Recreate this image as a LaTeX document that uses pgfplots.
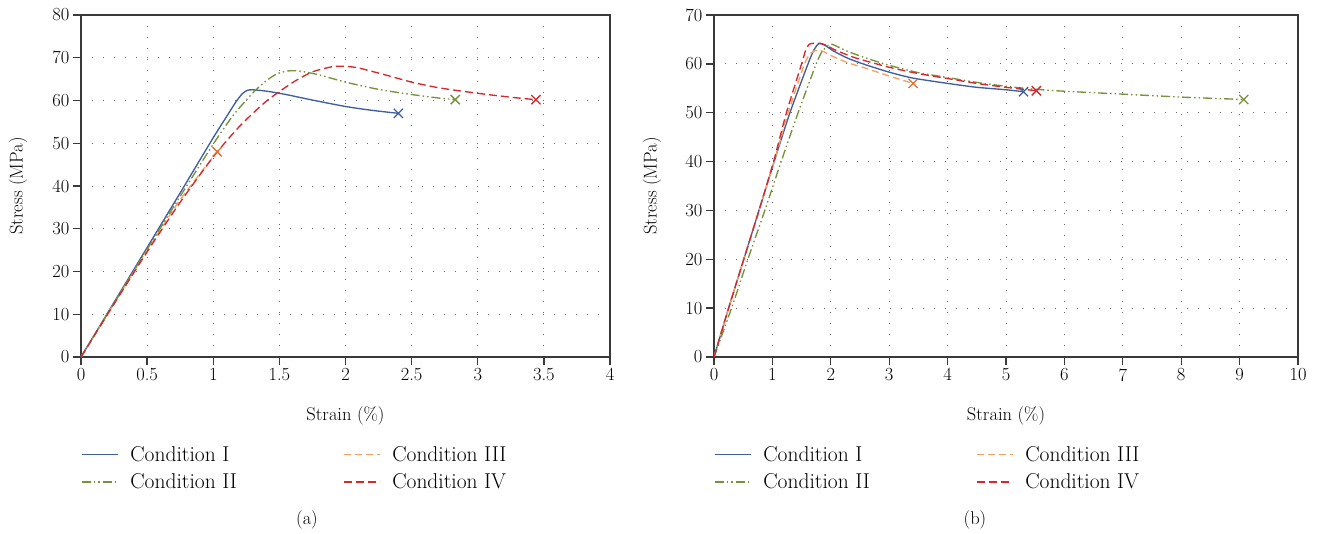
\documentclass[border=0pt]{standalone}
\usepackage{fontspec}
\usepackage{pgfplots}
\pgfplotsset{compat=1.18}
\definecolor{cI}{HTML}{3F5F9F}
\definecolor{cII}{HTML}{76923C}
\definecolor{cIII}{HTML}{F2A066}
\definecolor{cIIIx}{HTML}{E0702E}
\definecolor{cIV}{HTML}{D42A2F}
\definecolor{axc}{HTML}{3A3A3A}
\newcommand{\fs}{\fontsize{18.5}{21}\selectfont}
\newcommand{\fl}{\fontsize{21.5}{24}\selectfont}
\pgfplotsset{
  mystyle/.style={
    scale only axis, height=342pt,
    axis line style={axc, line width=1.3pt},
    every tick/.style={axc, line width=1.3pt},
    tick align=outside, tick pos=left, major tick length=8pt,
    grid=major, grid style={black!60, line width=0.9pt, dash pattern=on 1.1pt off 9.9pt},
    ticklabel style={font=\fs},
    /pgf/number format/assume math mode=true,
    every axis x label/.style={at={(axis description cs:0.5,-0.1725)}, anchor=center, font=\fs},
    legend columns=2,
    legend cell align=left,
    legend image code/.code={\draw[#1] (0pt,0pt) -- (36pt,0pt);},
    legend style={draw=none, fill=none, font=\fl, inner sep=0pt, outer sep=0pt,
      row sep=7pt,
      /tikz/every odd column/.append style={column sep=10pt},
      /tikz/every even column/.append style={column sep=104pt},
      at={(axis description cs:0,-0.255)}, anchor=north west},
  },
  cIs/.style={cI, line width=1.35pt, smooth, tension=0.4},
  cIIs/.style={cII, line width=1.35pt, smooth, tension=0.4, dash pattern=on 9pt off 3pt on 1.5pt off 3pt on 1.5pt off 3pt},
  cIIIs/.style={cIII, line width=1.35pt, smooth, tension=0.4, dash pattern=on 7pt off 4pt},
  cIVs/.style={cIV, line width=1.35pt, smooth, tension=0.4, dash pattern=on 8pt off 4pt},
  xm/.style={only marks, mark=x, mark size=6.5pt, mark options={line width=1.3pt, solid}, forget plot},
}
\begin{document}
\begin{tikzpicture}[x=1pt,y=1pt]
\useasboundingbox (0,0) rectangle (1320,533);
% ---------------- (a)
\begin{axis}[mystyle, width=529pt, at={(81pt,176pt)}, anchor=south west,
  xmin=0, xmax=4, ymin=0, ymax=80,
  xtick={0,0.5,...,4}, ytick={0,10,...,80},
  xlabel={Strain (\%)}, ylabel={Stress (MPa)},
  every axis y label/.style={at={(axis description cs:-0.119,0.5)}, rotate=90, anchor=center, font=\fs},
  ]
\addplot[cIs] coordinates {(0,0)(0.25,12.8)(0.5,25.6)(0.75,38.4)(1.0,51.3)(1.1,56.2)(1.17,59.6)(1.22,61.6)(1.26,62.4)(1.3,62.5)(1.4,62.2)(1.55,61.4)(1.75,60.1)(2.0,58.6)(2.2,57.7)(2.4,57.0)};
\addlegendentry{Condition I}
\addplot[cIIIs] coordinates {(0,0)(0.25,12.5)(0.5,24.9)(0.75,36.8)(1.03,48.0)};
\addlegendentry{Condition III}
\addplot[cIIs] coordinates {(0,0)(0.25,12.6)(0.5,25.2)(0.75,37.6)(1.0,49.8)(1.15,56.5)(1.3,61.8)(1.4,64.6)(1.48,66.2)(1.56,66.9)(1.65,66.9)(1.8,66.0)(2.0,64.3)(2.25,62.6)(2.5,61.4)(2.7,60.6)(2.83,60.2)};
\addlegendentry{Condition II}
\addplot[cIVs] coordinates {(0,0)(0.25,12.4)(0.5,24.6)(0.75,36.2)(1.0,46.8)(1.2,54.0)(1.4,59.8)(1.6,64.2)(1.75,66.7)(1.9,67.9)(2.0,68.0)(2.1,67.6)(2.3,66.0)(2.5,64.3)(2.7,63.0)(2.9,62.1)(3.1,61.3)(3.3,60.6)(3.44,60.2)};
\addlegendentry{Condition IV}
\addplot[xm, cI] coordinates {(2.4,57.0)};
\addplot[xm, cIIIx] coordinates {(1.03,48.0)};
\addplot[xm, cII] coordinates {(2.83,60.2)};
\addplot[xm, cIV] coordinates {(3.44,60.2)};
\end{axis}
% ---------------- (b)
\begin{axis}[mystyle, width=584pt, at={(714pt,176pt)}, anchor=south west,
  xmin=0, xmax=10, ymin=0, ymax=70,
  xtick={0,1,...,10}, ytick={0,10,...,70},
  xlabel={Strain (\%)}, ylabel={Stress (MPa)},
  every axis y label/.style={at={(axis description cs:-0.106,0.5)}, rotate=90, anchor=center, font=\fs},
  ]
\addplot[cIs] coordinates {(0,0)(0.25,10)(0.51,20)(0.77,30)(1.03,40)(1.3,50)(1.61,60)(1.7,62.6)(1.77,63.9)(1.82,64.2)(1.9,63.8)(2.05,62.6)(2.3,61.1)(2.6,59.8)(3.0,58.3)(3.4,57.1)(4.0,56.0)(4.5,55.2)(5.0,54.7)(5.3,54.3)};
\addlegendentry{Condition I}
\addplot[cIIIs] coordinates {(0,0)(0.25,10)(0.51,20)(0.77,30)(1.03,40)(1.27,50)(1.55,60)(1.66,62.2)(1.76,62.8)(1.86,62.6)(2.0,61.7)(2.3,60.2)(2.6,59.1)(3.0,57.5)(3.41,56.0)};
\addlegendentry{Condition III}
\addplot[cIIs] coordinates {(0,0)(0.3,10)(0.58,20)(0.87,30)(1.15,40)(1.44,50)(1.75,60)(1.85,62.5)(1.95,63.7)(2.02,64.0)(2.1,63.6)(2.3,62.5)(2.6,61.2)(3.0,59.7)(3.5,58.2)(4.0,57.2)(4.5,56.2)(5.0,55.4)(5.5,54.8)(6.0,54.4)(7.0,53.8)(8.0,53.2)(9.07,52.7)};
\addlegendentry{Condition II}
\addplot[cIVs] coordinates {(0,0)(0.25,10)(0.51,20)(0.77,30)(1.02,40)(1.24,50)(1.50,60)(1.57,62.8)(1.63,64.0)(1.7,64.2)(1.8,64.2)(1.9,63.9)(2.1,62.7)(2.4,61.3)(2.6,60.6)(3.0,59.3)(3.5,58.0)(4.0,57.0)(4.5,56.0)(5.0,55.2)(5.52,54.5)};
\addlegendentry{Condition IV}
\addplot[xm, cI] coordinates {(5.3,54.3)};
\addplot[xm, cIIIx] coordinates {(3.41,56.0)};
\addplot[xm, cII] coordinates {(9.07,52.7)};
\addplot[xm, cIV] coordinates {(5.52,54.5)};
\end{axis}
\node[font=\fs] at (307,13) {(a)};
\node[font=\fs] at (975,13) {(b)};
\end{tikzpicture}
\end{document}
